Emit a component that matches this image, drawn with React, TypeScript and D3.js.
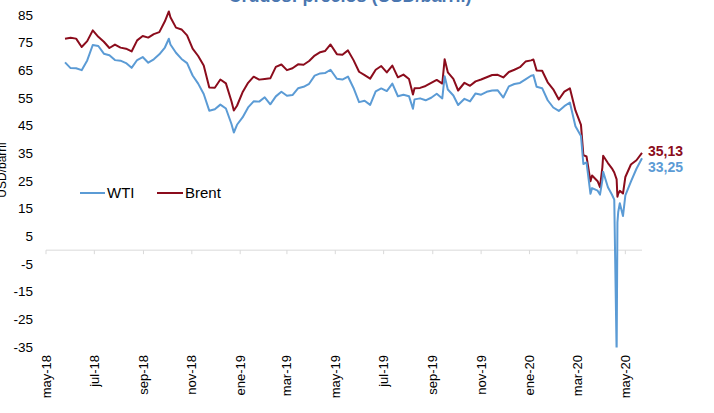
import React from 'react';
import * as d3 from 'd3';

const dates = [
  '2018-05-25','2018-06-01','2018-06-08','2018-06-15','2018-06-22','2018-06-29','2018-07-06','2018-07-13','2018-07-20','2018-07-27',
  '2018-08-03','2018-08-10','2018-08-17','2018-08-24','2018-08-31','2018-09-07','2018-09-14','2018-09-21','2018-09-28','2018-10-03',
  '2018-10-05','2018-10-12','2018-10-19','2018-10-26','2018-11-02','2018-11-09','2018-11-16','2018-11-23','2018-11-30','2018-12-07',
  '2018-12-14','2018-12-21','2018-12-24','2018-12-28',
  '2019-01-04','2019-01-11','2019-01-18','2019-01-25','2019-02-01','2019-02-08','2019-02-15','2019-02-22','2019-03-01','2019-03-08',
  '2019-03-15','2019-03-22','2019-03-29','2019-04-05','2019-04-12','2019-04-18','2019-04-25','2019-05-03','2019-05-10','2019-05-17',
  '2019-05-24','2019-05-31','2019-06-07','2019-06-14','2019-06-21','2019-06-28','2019-07-05','2019-07-12','2019-07-19','2019-07-26',
  '2019-08-02','2019-08-07','2019-08-09','2019-08-16','2019-08-23','2019-08-30','2019-09-06','2019-09-13','2019-09-16','2019-09-20',
  '2019-09-27','2019-10-03','2019-10-11','2019-10-18','2019-10-25','2019-11-01','2019-11-08','2019-11-15','2019-11-22','2019-11-29',
  '2019-12-06','2019-12-13','2019-12-20','2019-12-27',
  '2020-01-03','2020-01-06','2020-01-10','2020-01-17','2020-01-24','2020-01-31','2020-02-07','2020-02-14','2020-02-21','2020-02-28',
  '2020-03-06','2020-03-09','2020-03-13','2020-03-18','2020-03-20','2020-03-27','2020-03-30','2020-04-02','2020-04-03','2020-04-09',
  '2020-04-14','2020-04-17','2020-04-20','2020-04-21','2020-04-22','2020-04-24','2020-04-28','2020-05-01','2020-05-08','2020-05-15',
  '2020-05-22'
];

const brent = [
  76.44,76.79,76.46,73.44,75.55,79.44,77.11,75.33,73.07,74.29,
  73.21,72.81,71.83,75.82,77.42,76.83,78.09,78.80,82.72,86.29,
  84.16,80.43,79.78,77.62,72.83,70.18,66.76,58.80,58.71,61.67,
  60.28,53.82,50.47,52.20,
  57.06,60.48,62.70,61.64,61.89,62.10,66.25,67.12,65.07,65.74,
  67.16,67.03,68.39,70.34,71.55,71.97,74.35,70.85,70.62,72.21,
  68.69,64.49,63.29,62.01,65.20,66.55,64.23,66.72,62.47,63.46,
  61.89,56.23,58.53,58.64,59.34,60.43,61.54,60.22,69.02,64.28,
  61.91,57.71,60.51,59.42,61.02,61.69,62.51,63.30,63.39,62.43,
  64.39,65.22,66.14,68.16,
  68.60,68.91,64.98,64.85,60.69,58.16,54.47,57.32,58.50,50.52,
  45.27,34.36,33.85,24.88,26.98,24.93,22.76,29.94,34.11,31.48,
  29.60,28.08,25.57,19.33,20.37,21.44,20.46,26.44,30.97,32.50,
  35.13
];

const wti = [
  67.88,65.81,65.74,65.06,68.58,74.15,73.80,71.01,70.46,68.69,
  68.49,67.63,65.91,68.72,69.80,67.75,68.99,70.78,73.25,76.41,
  74.34,71.34,69.12,67.59,63.14,60.19,56.46,50.42,50.93,52.61,
  51.20,45.59,42.53,45.33,
  47.96,51.59,53.80,53.69,55.26,52.72,55.59,57.26,55.80,56.07,
  58.52,59.04,60.14,63.08,63.89,64.00,65.21,61.94,61.66,62.76,
  58.63,53.50,53.99,52.51,57.43,58.47,57.51,60.21,55.63,56.20,
  55.66,51.09,54.50,54.87,54.17,55.10,56.52,54.85,62.90,58.09,
  55.91,52.45,54.70,53.78,56.66,56.20,57.24,57.72,57.77,55.17,
  59.20,60.07,60.44,61.72,
  63.05,63.27,59.04,58.54,54.19,51.56,50.32,52.05,53.38,44.76,
  41.28,31.13,31.73,20.37,22.43,21.51,20.09,25.32,28.34,22.76,
  20.11,18.27,-37.63,10.01,13.78,16.94,12.34,19.78,24.74,29.43,
  33.25
];

const yTicks = [85, 75, 65, 55, 45, 35, 25, 15, 5, -5, -15, -25, -35];
const xTickDates = ['2018-05-01','2018-07-01','2018-09-01','2018-11-01','2019-01-01','2019-03-01','2019-05-01','2019-07-01','2019-09-01','2019-11-01','2020-01-01','2020-03-01','2020-05-01'];
const xTickLabels = ['may-18','jul-18','sep-18','nov-18','ene-19','mar-19','may-19','jul-19','sep-19','nov-19','ene-20','mar-20','may-20'];
const seriesNames = ['WTI', 'Brent'];
const lastLabels = ['35,13', '33,25'];

const WTI_COLOR = '#5b9bd5';
const BRENT_COLOR = '#8b0c1c';
const FONT = '"Liberation Sans", Arial, sans-serif';

export default function App() {
  const W = 714, H = 413;
  const parse = d3.timeParse('%Y-%m-%d');
  const pd = dates.map((d) => parse(d) as Date);
  const x = d3.scaleTime().domain([parse('2018-05-01') as Date, parse('2020-05-22') as Date]).range([46, 642]);
  const y = d3.scaleLinear().domain([-35, 85]).range([347, 15]);
  const line = d3.line<number>().x((_, i) => x(pd[i])).y((d) => y(d));
  const y0 = y(0);

  return (
    <svg width={W} height={H} style={{ position: 'absolute', left: 0, top: 0, background: '#fff' }} fontFamily={FONT}>
      <defs>
        <clipPath id="plot">
          <rect x={40} y={0} width={620} height={347.5} />
        </clipPath>
      </defs>
      <text x={350} y={2} textAnchor="middle" fontSize={18} fontWeight="bold" fill="#4a76b0">
        Crudos: precios (USD/barril)
      </text>
      <text transform={`translate(6,170) rotate(-90)`} textAnchor="middle" fontSize={12} fill="#000">USD/barril</text>
      {yTicks.map((t) => (
        <text key={t} x={33} y={y(t)} dy="0.35em" textAnchor="end" fontSize={13.5} fill="#000">{t}</text>
      ))}
      <line x1={46} x2={642} y1={y0} y2={y0} stroke="#d9d9d9" strokeWidth={1} />
      {xTickDates.map((d, i) => {
        const xx = x(parse(d) as Date);
        return (
          <g key={d}>
            <line x1={xx} x2={xx} y1={y0} y2={y0 + 4} stroke="#d9d9d9" strokeWidth={1} />
            <text transform={`translate(${xx},355) rotate(-90)`} textAnchor="end" dy="0.35em" fontSize={13} fill="#000">
              {xTickLabels[i]}
            </text>
          </g>
        );
      })}
      <g clipPath="url(#plot)">
        <path d={line(brent) || ''} fill="none" stroke={BRENT_COLOR} strokeWidth={2} strokeLinejoin="round" />
        <path d={line(wti) || ''} fill="none" stroke={WTI_COLOR} strokeWidth={2} strokeLinejoin="round" />
      </g>
      <text x={648} y={151} dy="0.35em" fontSize={14} fontWeight="bold" fill={BRENT_COLOR}>{lastLabels[0]}</text>
      <text x={648} y={167} dy="0.35em" fontSize={14} fontWeight="bold" fill={WTI_COLOR}>{lastLabels[1]}</text>
      <g>
        <line x1={80} x2={105} y1={193} y2={193} stroke={WTI_COLOR} strokeWidth={2} />
        <text x={107} y={193} dy="0.35em" fontSize={15} fill="#000">{seriesNames[0]}</text>
        <line x1={157} x2={183} y1={193} y2={193} stroke={BRENT_COLOR} strokeWidth={2} />
        <text x={185} y={193} dy="0.35em" fontSize={15} fill="#000">{seriesNames[1]}</text>
      </g>
    </svg>
  );
}
